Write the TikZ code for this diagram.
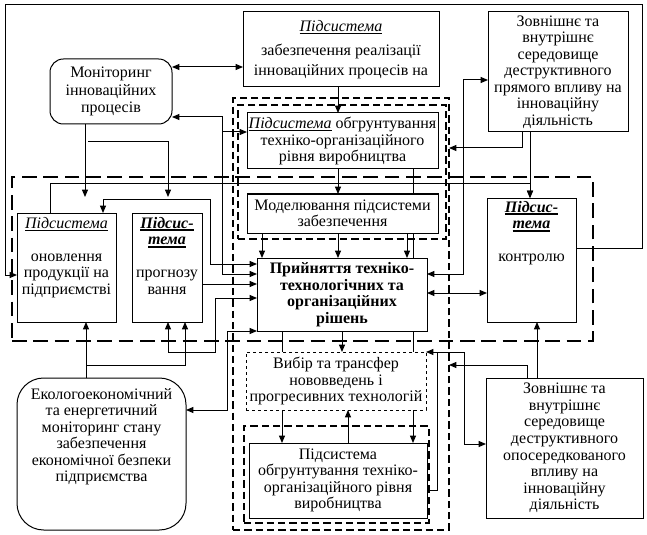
\documentclass[tikz,border=0pt]{standalone}
\usepackage{fontspec}
\setmainfont{Liberation Serif}
\usetikzlibrary{arrows.meta}
\newcommand\myul[2]{\setbox0\hbox{#2}\rlap{\raisebox{-2pt}{\rule{\wd0}{#1}}}\box0\relax}
\begin{document}
\begin{tikzpicture}[x=0.75pt,y=-0.75pt,
  font=\fontsize{12pt}{12.4pt}\selectfont,
  >={Triangle[length=5.5pt,width=4.5pt]},
  box/.style={draw, line width=0.75pt, fill=white, inner sep=0pt, outer sep=0pt, align=center, anchor=north west},
  txt/.style={inner sep=0pt, align=center, anchor=north},
  dashbox/.style={draw, line width=1.3pt, dash pattern=on 5.5pt off 3pt, inner sep=0pt, outer sep=0pt, anchor=north west},
  bigdash/.style={draw, line width=2pt, dash pattern=on 11pt off 5pt, inner sep=0pt, outer sep=0pt, anchor=north west},
  conn/.style={line width=0.75pt}]
\useasboundingbox (0,0) rectangle (647,535);

% dashed containers
\node[dashbox, minimum width=162pt, minimum height=324pt] (colout) at (233,98) {};
\node[dashbox, minimum width=156pt, minimum height=100.5pt] (colin) at (238,105) {};
\node[bigdash, minimum width=435.75pt, minimum height=123pt] (bigd) at (12,177) {};
\node[dashbox, minimum width=138.75pt, minimum height=72.75pt] (obg2d) at (244,426) {};

% boxes
\node[box, rounded corners=10pt, minimum width=91.5pt, minimum height=48.75pt, font=\fontsize{12pt}{13pt}\selectfont] (mon) at (50,59) {Моніторинг\\інноваційних\\процесів};
\node[box, minimum width=147pt, minimum height=56.25pt, font=\fontsize{12pt}{15pt}\selectfont] (zab) at (243,12) {\myul{0.5pt}{\itshape Підсистема}\\[3pt]забезпечення реалізації\\інноваційних процесів на};
\node[box, minimum width=105pt, minimum height=90pt] (dtop) at (488,12) {Зовнішнє та\\внутрішнє\\середовище\\деструктивного\\прямого впливу на\\інноваційну\\діяльність};
\node[box, minimum width=143.25pt, minimum height=42pt] (obg1) at (247,113) {\myul{0.5pt}{\itshape Підсистема} обгрунтування\\техніко-організаційного\\рівня виробництва};
\node[box, minimum width=143.25pt, minimum height=29.25pt] (model) at (247,194) {Моделювання підсистеми\\забезпечення};
\node[box, minimum width=127.5pt, minimum height=54.75pt, font=\fontsize{12pt}{12.5pt}\selectfont\bfseries] (prin) at (257,258) {Прийняття техніко-\\технологічних та\\організаційних\\рішень};
\node[box, minimum width=74.25pt, minimum height=81.75pt] (onov) at (17,213) {};
\node[txt] (onovt) at ([yshift=-3pt]onov.north) {\myul{0.5pt}{\itshape Підсистема}\\[12.4pt]оновлення\\продукції на\\підприємстві};
\node[box, minimum width=52.5pt, minimum height=81.75pt] (prog) at (132,213) {};
\node[txt] (progt) at ([yshift=-3pt]prog.north) {\myul{1.2pt}{\bfseries\itshape Підсис-}\\\myul{1.2pt}{\bfseries\itshape тема}\\[12.4pt]прогнозу\\вання};
\node[box, minimum width=66.75pt, minimum height=93pt] (ctrl) at (487,198) {};
\node[txt] (ctrlt) at ([yshift=-2.25pt]ctrl.north) {\myul{1.2pt}{\bfseries\itshape Підсис-}\\\myul{1.2pt}{\bfseries\itshape тема}\\[12.4pt]контролю};
\node[box, dash pattern=on 2.5pt off 2pt, minimum width=135pt, minimum height=43.5pt] (vyb) at (246,352) {Вибір та трансфер\\нововведень і\\прогресивних технологій};
\node[box, minimum width=133.5pt, minimum height=56.25pt] (obg2) at (249,443) {Підсистема\\обгрунтування техніко-\\організаційного рівня\\виробництва};
\node[box, rounded corners=20pt, minimum width=126.75pt, minimum height=114pt] (eko) at (17,378) {};
\node[txt] (ekot) at ([yshift=-7.5pt]eko.north) {Екологоекономічний\\та енергетичний\\моніторинг стану\\забезпечення\\економічної безпеки\\підприємства};
\node[box, minimum width=117.75pt, minimum height=105pt] (dbot) at (486,378) {Зовнішнє та\\внутрішнє\\середовище\\деструктивного\\опосередкованого\\впливу на\\інноваційну\\діяльність};

% connectors
\draw[conn,<->] (mon.east |- 0,67) -- (zab.west |- 0,67);
\draw[conn,->] (zab.south -| 338,0) -- (obg1.north -| 338,0);
\draw[conn,->] (obg1.south -| 338,0) -- (model.north -| 338,0);
\draw[conn] (obg1.south -| 413,0) -- (model.north -| 413,0);
\draw[conn] (model.south -| 413,0) -- (prin.north -| 413,0);
\draw[conn,->] (model.south -| 262,0) -- (prin.north -| 262,0);
\draw[conn,->] (model.south -| 338,0) -- (prin.north -| 338,0);
\draw[conn,->] (model.south -| 407,0) -- (prin.north -| 407,0);
\draw[conn,<->] (mon.east |- 0,117) -- (222,117) -- (222,274) -- (prin.west |- 0,274);
\draw[conn,->] (222,132) -- (obg1.west |- 0,132);
\draw[conn,<->] (onov.north -| 103,0) -- (103,199) -- (210.5,199) -- (210.5,264) -- (prin.west |- 0,264);
\draw[conn,->] (prog.east |- 0,284) -- (prin.west |- 0,284);
\draw[conn,<->] (prog.south -| 168,0) -- (168,352) -- (215,352) -- (215,298) -- (prin.west |- 0,298);
\draw[conn,<->] (eko.east |- 0,410) -- (227,410) -- (227,331) -- (prin.south west);
\draw[conn,->] (eko.north -| 86,0) -- (onov.south -| 86,0);
\draw[conn,->] (86,365) -- (185,365) -- (prog.south -| 185,0);
\draw[conn,->] (mon.south -| 85,0) -- (85,197);
\draw[conn,->] (88,142) -- (168,142) -- (168,197);
\draw[conn,->] (onov.north -| 50,0) -- (50,184) -- (530,184) -- (ctrl.north -| 530,0);
\draw[conn,->] (dtop.south -| 530,0) -- (ctrl.north -| 530,0);
\draw[conn,->] (dtop.south -| 522,0) -- (522,148) -- (colout.east |- 0,148);
\draw[conn,<->] (dtop.west |- 0,80) -- (463,80) -- (463,274) -- (prin.east |- 0,274);
\draw[conn,<->] (prin.east |- 0,293) -- (ctrl.west |- 0,293);
\draw[conn,->] (ctrl.east |- 0,248) -- (642,248) -- (642,5) -- (5,5) -- (5,275) -- (onov.west |- 0,275);
\draw[conn,->] (dbot.north -| 537,0) -- (ctrl.south -| 537,0);
\draw[conn,->] (dbot.north -| 527,0) -- (527,365) -- (colout.east |- 0,365);
\draw[conn,<->] (dbot.west |- 0,444) -- (464,444) -- (464,352) -- (vyb.east |- 0,352);
\draw[conn] (obg2.east |- 0,490) -- (437,490) -- (437,352);
\draw[conn] (prin.south -| 282,0) -- (vyb.north -| 282,0);
\draw[conn,->] (prin.south -| 342,0) -- (vyb.north -| 342,0);
\draw[conn] (prin.south -| 413,0) -- (vyb.north -| 413,0);
\draw[conn,->] (vyb.south -| 282,0) -- (obg2.north -| 282,0);
\draw[conn,->] (vyb.south -| 413,0) -- (obg2.north -| 413,0);
\draw[conn,->] (obg2.north -| 348,0) -- (vyb.south -| 348,0);
\end{tikzpicture}
\end{document}
